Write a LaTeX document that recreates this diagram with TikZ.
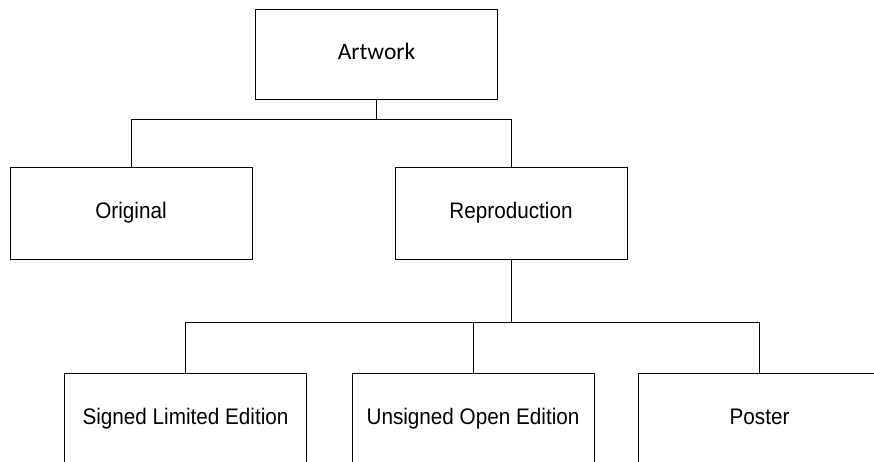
\documentclass[tikz,border=0pt]{standalone}
\usepackage{fontspec}
\setmainfont{Liberation Sans}[FakeStretch=0.92]
\newfontfamily\artfont{Carlito}
\begin{document}
\begin{tikzpicture}[x=1pt,y=-1pt,
  box/.style={draw=black,line width=1pt,minimum width=242pt,minimum height=92pt,inner sep=0pt,text height=16pt,text depth=4.5pt,font=\fontsize{22.5}{26}\selectfont},
  link/.style={draw=black,line width=1pt}]
\useasboundingbox (0,0) rectangle (874,461);
\clip (0,0) rectangle (874,461);
\node[box,minimum height=90pt,font=\artfont\fontsize{23.5}{28}\selectfont] (art) at (376.5,54) {Artwork};
\node[box] (orig) at (131,213) {Original};
\node[box,minimum width=232pt] (rep) at (511,213) {Reproduction};
\node[box] (sle) at (185.5,419) {Signed Limited Edition};
\node[box] (uoe) at (473,419) {Unsigned Open Edition};
\node[box] (pos) at (759.5,419) {Poster};
\coordinate (j1) at (376.5,119);
\coordinate (j2) at (511,322);
\draw[link] (art.south) -- (j1) -| (orig.north);
\draw[link] (j1) -| (rep.north);
\draw[link] (rep.south) -- (j2) -| (sle.north);
\draw[link] (j2) -| (pos.north);
\draw[link] (uoe.north) |- (j2);
\end{tikzpicture}
\end{document}
